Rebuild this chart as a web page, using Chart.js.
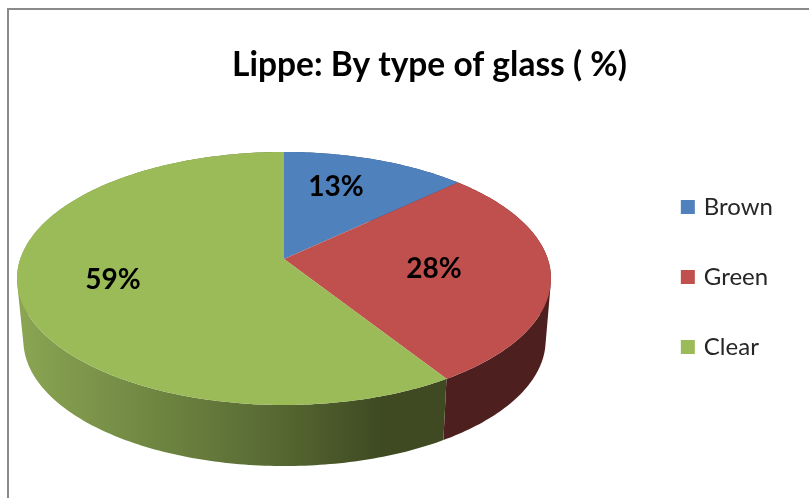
<!DOCTYPE html>
<html>
<head>
<meta charset="utf-8">
<script src="https://cdn.jsdelivr.net/npm/chart.js@4"></script>
<style>
  html, body { margin:0; padding:0; background:#fff; }
  #wrap { position:relative; width:809px; height:498px; overflow:hidden; }
</style>
</head>
<body>
<div id="wrap"><canvas id="chart" width="809" height="498"></canvas></div>
<script>
// data
const categories = ['Brown', 'Green', 'Clear'];
const shares = [13, 28, 59];
const sliceColors = ['#4F81BD', '#C0504D', '#9BBB59'];
const titleText = 'Lippe: By type of glass ( %)';

// where the percent labels sit (hand placed in the original too)
const labelSpots = [[336, 187], [434, 269], [113, 280]];

// tilted disc, top face and bottom face, p = perspective
const topFace = { cx:284, cy:259, b:263.8, a:123.5 };
const bottomFace = { cx:284.5, cy:321, b:258, a:122.7 };
const p = -0.154;

function project(face, angle) {
  const u = Math.cos(angle), v = Math.sin(angle), d = 1 + p * v;
  return [face.cx + face.b * u / d, face.cy + face.a * v / d];
}

function traceRim(ctx, face, from, to) {
  const steps = Math.max(8, Math.ceil(Math.abs(to - from) * 60));
  for (let i = 0; i <= steps; i++) {
    const pt = project(face, from + (to - from) * i / steps);
    ctx.lineTo(pt[0], pt[1]);
  }
}

// side wall as one path of thin quads, so the silhouette at the far left/right is filled too
function traceWall(ctx, from, to) {
  const steps = Math.ceil(Math.abs(to - from) * 60);
  for (let i = 0; i < steps; i++) {
    const a0 = from + (to - from) * i / steps;
    const a1 = from + (to - from) * (i + 1) / steps;
    const q = [project(topFace, a0), project(topFace, a1), project(bottomFace, a1), project(bottomFace, a0)];
    // all quads same winding, otherwise they cancel out where the wall folds
    let area = 0;
    q.forEach((pt, k) => {
      const nx = q[(k + 1) % 4];
      area += pt[0] * nx[1] - nx[0] * pt[1];
    });
    if (area < 0) q.reverse();
    ctx.moveTo(q[0][0], q[0][1]);
    ctx.lineTo(q[1][0], q[1][1]);
    ctx.lineTo(q[2][0], q[2][1]);
    ctx.lineTo(q[3][0], q[3][1]);
    ctx.closePath();
  }
}

const pie3d = {
  id: 'pie3d',
  beforeDraw(chart) {
    // frame of the pasted chart, only top and left survive
    const ctx = chart.ctx;
    ctx.save();
    ctx.fillStyle = '#8A8A8A';
    ctx.fillRect(7, 8, 802, 2);
    ctx.fillRect(7, 8, 2, 490);
    ctx.restore();
  },
  beforeDatasetDraw(chart, args) {
    const ctx = chart.ctx;
    const arcs = args.meta.data;

    const greenWall = ctx.createLinearGradient(20, 0, 380, 0);
    greenWall.addColorStop(0, '#8AA553');
    greenWall.addColorStop(0.3, '#748C45');
    greenWall.addColorStop(0.7, '#586A33');
    greenWall.addColorStop(1, '#3F4A22');
    const wallColors = ['#2E4A70', '#4D1F1F', greenWall];

    ctx.save();
    arcs.forEach((arc, i) => {
      ctx.beginPath();
      traceWall(ctx, arc.startAngle, arc.endAngle);
      ctx.fillStyle = wallColors[i];
      ctx.fill();
    });
    arcs.forEach((arc, i) => {
      ctx.beginPath();
      ctx.moveTo(topFace.cx, topFace.cy);
      traceRim(ctx, topFace, arc.startAngle, arc.endAngle);
      ctx.closePath();
      ctx.fillStyle = sliceColors[i];
      ctx.fill();
    });
    ctx.restore();
    return false; // native flat arcs are replaced
  },
  afterDatasetsDraw(chart) {
    const ctx = chart.ctx;
    ctx.save();
    ctx.font = 'bold 28px Lato';
    ctx.fillStyle = '#000';
    ctx.textAlign = 'center';
    ctx.textBaseline = 'middle';
    shares.forEach((v, i) => ctx.fillText(v + '%', labelSpots[i][0], labelSpots[i][1]));
    ctx.restore();
  }
};

new Chart(document.getElementById('chart'), {
  type: 'pie',
  data: {
    labels: categories,
    datasets: [{ data: shares, backgroundColor: sliceColors, borderWidth: 0 }]
  },
  options: {
    responsive: false,
    animation: false,
    layout: { padding: { left: 76, right: 26, top: 0, bottom: 29 } },
    plugins: {
      tooltip: { enabled: false },
      title: {
        display: true,
        text: titleText,
        color: '#000',
        font: { family: 'Lato', size: 33.5, weight: 'bold' },
        padding: { top: 45, bottom: 0 }
      },
      legend: {
        position: 'right',
        fullSize: false,
        labels: {
          boxWidth: 8,
          boxHeight: 8,
          padding: 46,
          color: '#262626',
          font: { family: 'Lato', size: 24 },
          // thick outline keeps the swatch 14px but the text closer to it, as in the original
          generateLabels: chart => Chart.overrides.pie.plugins.legend.labels.generateLabels(chart)
            .map(l => ({ ...l, lineWidth: 6, strokeStyle: l.fillStyle }))
        }
      }
    }
  },
  plugins: [pie3d]
});
</script>
</body>
</html>
